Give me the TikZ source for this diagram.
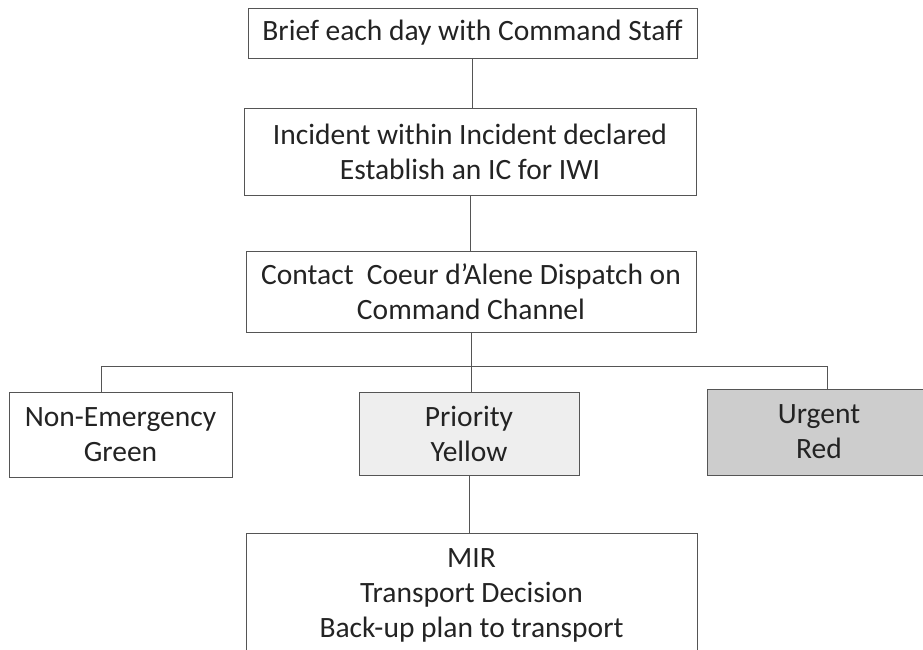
\documentclass[tikz,border=0pt]{standalone}
\usepackage{fontspec}
\setmainfont{Carlito}
\usepackage{tikz}
\usetikzlibrary{arrows.meta}
\definecolor{lightfill}{RGB}{238,238,238}
\definecolor{darkfill}{RGB}{205,205,205}
\definecolor{linegray}{RGB}{85,85,85}
\definecolor{textgray}{RGB}{35,35,35}

\begin{document}
\begin{tikzpicture}[x=1pt,y=-1pt,
    box/.style={draw=linegray,line width=0.9pt,inner sep=0pt,align=center,text=textgray,
        font=\fontsize{29.5}{35}\selectfont}]
\useasboundingbox (0,0) rectangle (923,649);
\clip (0,0) rectangle (923,649);
\begin{scope}
    \node[box,minimum width=449pt,minimum height=50pt] (brief) at (472.5,33) {Brief each day with Command Staff};
    \node[box,minimum width=452pt,minimum height=87pt] (incident) at (470,151.5) {Incident within Incident declared\\Establish an IC for IWI};
    \node[box,minimum width=450pt,minimum height=81pt] (contact) at (471,291.5) {Contact\ \ Coeur d’Alene Dispatch on\\Command Channel};
    \node[box,minimum width=223pt,minimum height=85pt] (green) at (120.5,434.5) {Non-Emergency\\Green};
    \node[box,fill=lightfill,minimum width=220pt,minimum height=83pt] (yellow) at (469,433.5) {Priority\\Yellow};
    \node[box,fill=darkfill,minimum width=224pt,minimum height=86pt] (red) at (819,432) {Urgent\\Red};
    \node[box,minimum width=451pt,minimum height=124pt] (mir) at (471.5,595) {MIR\\Transport Decision\\Back-up plan to transport};

    \coordinate (busl) at (101,366);
    \coordinate (busr) at (827,366);

    \path [draw=linegray,line width=0.9pt] (brief.south) edge (brief.south |- incident.north);
    \path [draw=linegray,line width=0.9pt] (incident.south) edge (incident.south |- contact.north);
    \path [draw=linegray,line width=0.9pt] (contact.south) edge (contact.south |- yellow.north);
    \draw [linegray,line width=0.9pt] (green.north -| busl) -- (busl) -- (busr) -- (red.north -| busr);
    \path [draw=linegray,line width=0.9pt] (yellow.south) edge (yellow.south |- mir.north);
\end{scope}
\end{tikzpicture}
\end{document}
